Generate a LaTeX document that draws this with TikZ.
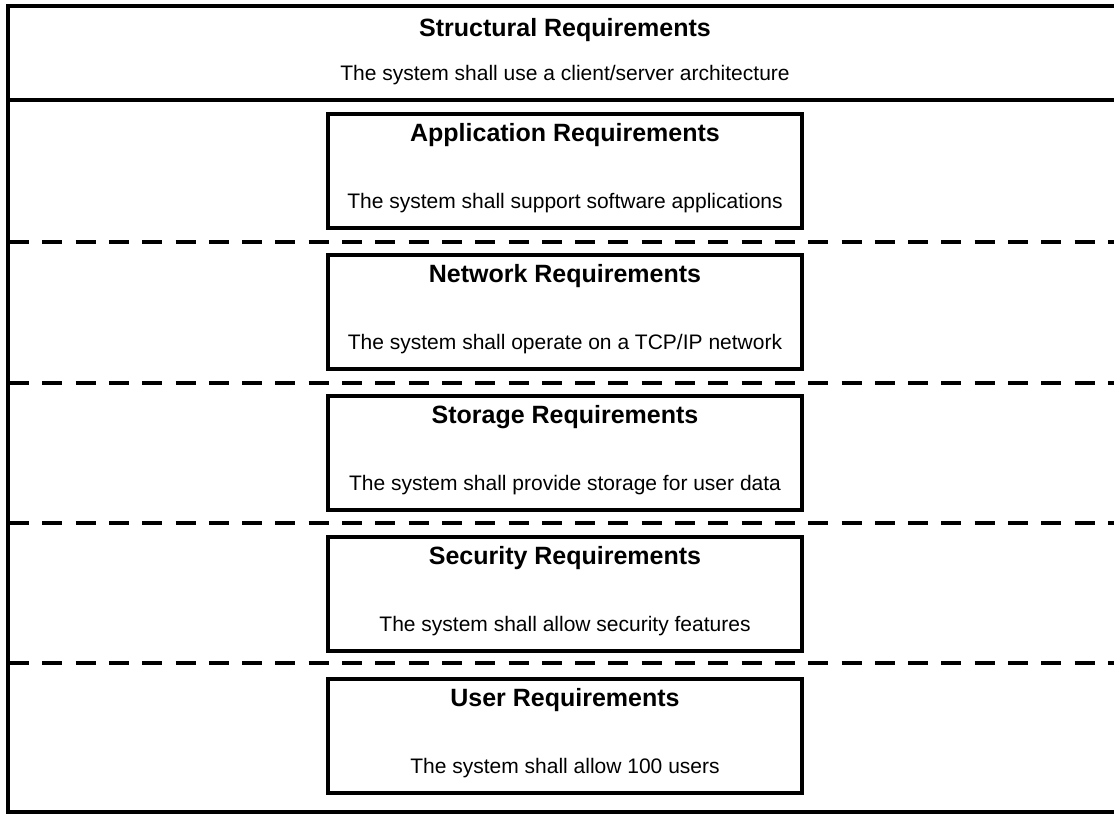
\documentclass[tikz,border=0pt]{standalone}
\usepackage{fontspec}
\setmainfont{Liberation Sans}
\usetikzlibrary{positioning}
\tikzset{
	reqbox/.style={draw, line width=2pt, minimum width=237pt, minimum height=57pt, inner sep=0pt},
	reqtitle/.style={font=\fontsize{12.5}{15}\selectfont\bfseries},
	reqtext/.style={font=\fontsize{10.5}{13}\selectfont},
	frameline/.style={line width=2pt},
	sepline/.style={line width=2pt, dash pattern=on 10pt off 6.65pt}
}
\begin{document}
\begin{tikzpicture}[x=0.5pt, y=-0.5pt]
	\useasboundingbox (0,0) rectangle (1114,816);
	% marco exterior
	\draw[frameline] (1114,6) -- (8,6) -- (8,812) -- (1114,812);
	\draw[frameline] (8,100) -- (1114,100);
	\node[reqtitle] (struct) at (565,30) {Structural Requirements};
	\node[reqtext] (structtext) at (565,75) {The system shall use a client/server architecture};
	% separadores
	\foreach \y in {242,383,523,663}{
		\draw[sepline] (9,\y) -- (1114,\y);}
	% cajas de requisitos
	\foreach \y/\name/\title/\txt in {
		171/app/Application/{The system shall support software applications},
		312/net/Network/{The system shall operate on a TCP/IP network},
		453/stor/Storage/{The system shall provide storage for user data},
		594/sec/Security/{The system shall allow security features},
		736/user/User/{The system shall allow 100 users}}{
		\node[reqbox] (\name) at (565,\y) {};
		\node[reqtitle] (\name-title) at ([yshift=-11.5pt]\name.north) {\title\ Requirements};
		\node[reqtext] (\name-text) at ([yshift=13.5pt]\name.south) {\txt};
	}
\end{tikzpicture}
\end{document}
